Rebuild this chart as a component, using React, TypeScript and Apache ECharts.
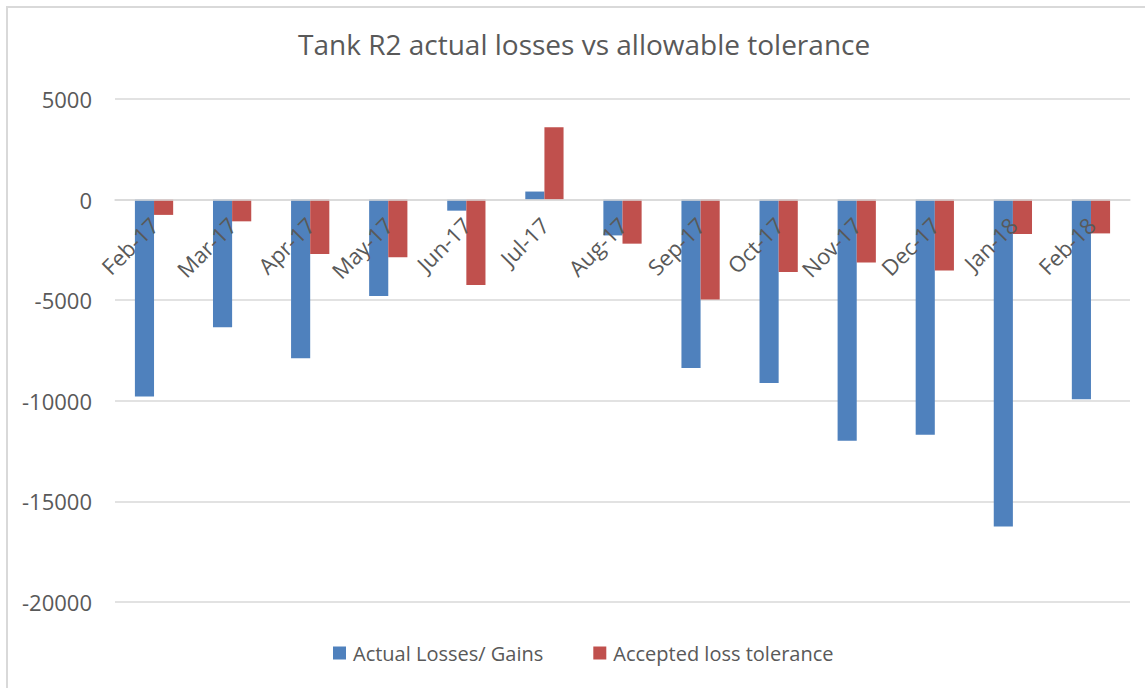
import React, { useEffect, useRef } from "react";
import * as echarts from "echarts";

const categories = ["Feb-17", "Mar-17", "Apr-17", "May-17", "Jun-17", "Jul-17", "Aug-17", "Sep-17", "Oct-17", "Nov-17", "Dec-17", "Jan-18", "Feb-18"];
const actualLossesGains = [-9790, -6350, -7880, -4790, -550, 400, -1780, -8370, -9120, -11990, -11690, -16250, -9920];
const acceptedLossTolerance = [-760, -1080, -2700, -2870, -4240, 3600, -2190, -4960, -3600, -3130, -3520, -1710, -1680];
const seriesNames = ["Actual Losses/ Gains", "Accepted loss tolerance"];
const titleText = "Tank R2 actual losses vs allowable tolerance";

const FONT = "'Open Sans', 'Noto Sans', sans-serif";
const TEXT = "#595959";
const GRID = "#d9d9d9";

export default function App() {
  const ref = useRef<HTMLDivElement>(null);
  useEffect(() => {
    if (!ref.current) return;
    const chart = echarts.init(ref.current, undefined, { renderer: "svg" });
    chart.setOption({
      animation: false,
      backgroundColor: "#ffffff",
      textStyle: { fontFamily: FONT },
      title: {
        text: titleText,
        left: 293,
        top: 25,
        textStyle: { fontFamily: FONT, fontSize: 28, fontWeight: "normal", color: TEXT },
      },
      graphic: [
        {
          type: "rect",
          shape: { x: 7, y: 7, width: 1170, height: 720 },
          style: { fill: "none", stroke: GRID, lineWidth: 2 },
          silent: true,
          z: -1,
        },
      ],
      legend: {
        left: 333,
        top: 643,
        padding: 0,
        itemWidth: 13,
        itemHeight: 13,
        itemGap: 50,
        icon: "rect",
        textStyle: { fontFamily: FONT, fontSize: 20, color: TEXT, padding: [0, 0, 0, 2] },
        data: seriesNames,
      },
      grid: { left: 115, right: 15, top: 99, bottom: 86, containLabel: false },
      xAxis: {
        type: "category",
        data: categories,
        z: 10,
        axisTick: { show: false },
        axisLine: { show: true, onZero: true, lineStyle: { color: GRID, width: 1.5 } },
        axisLabel: {
          rotate: 45,
          margin: -381,
          padding: [20, 0, 0, 0],
          fontFamily: FONT,
          fontSize: 22,
          color: TEXT,
          interval: 0,
        },
      },
      yAxis: {
        type: "value",
        min: -20000,
        max: 5000,
        interval: 5000,
        z: 0,
        axisLine: { show: false },
        axisTick: { show: false },
        axisLabel: {
          margin: 23,
          fontFamily: FONT,
          fontSize: 22,
          color: TEXT,
          formatter: (v: number) => String(v),
        },
        splitLine: { lineStyle: { color: GRID, width: 1.5 } },
      },
      series: [
        {
          name: seriesNames[0],
          type: "bar",
          data: actualLossesGains,
          barWidth: "24.5%",
          barGap: "0%",
          z: 2,
          itemStyle: { color: "#4f81bd" },
        },
        {
          name: seriesNames[1],
          type: "bar",
          data: acceptedLossTolerance,
          barWidth: "24.5%",
          barGap: "0%",
          z: 2,
          itemStyle: { color: "#c0504d" },
        },
      ],
    });
    return () => chart.dispose();
  }, []);
  return (
    <div
      ref={ref}
      style={{ position: "fixed", left: 0, top: 0, width: 1145, height: 688 }}
    />
  );
}
